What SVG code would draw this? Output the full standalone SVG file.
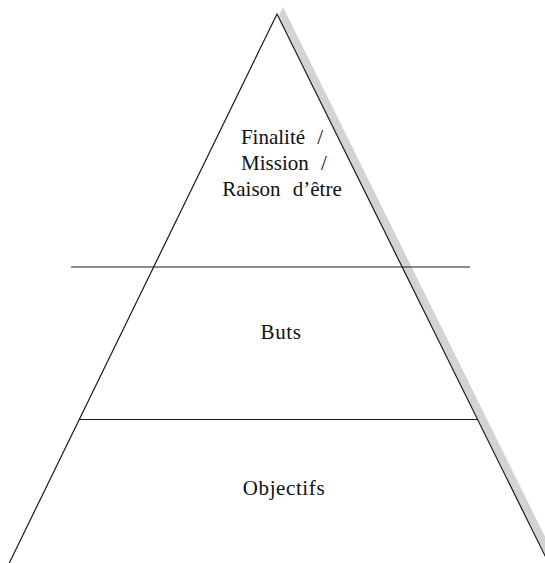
<svg xmlns="http://www.w3.org/2000/svg" width="545" height="563" viewBox="0 0 545 563">
  <style>
    .label { font-family: "Liberation Serif", "Times New Roman", serif; font-size: 21px; fill: #111; text-anchor: middle; }
    .top { word-spacing: 7px; }
    .wide { letter-spacing: 0.6px; }
    .edge { fill: #ffffff; stroke: #1a1a1a; stroke-width: 1.2; }
    .divider { stroke: #1a1a1a; stroke-width: 1.1; fill: none; }
  </style>
  <rect width="545" height="563" fill="#ffffff"/>

  <!-- pyramid body with its offset drop shadow -->
  <g id="pyramid">
    <polygon points="283,7 7,573 563,573" fill="#d3d3d3"/>
    <polygon class="edge" points="277,14 1,580 557,580"/>
  </g>

  <!-- tier dividers -->
  <g id="dividers">
    <line class="divider" x1="71" y1="267" x2="470" y2="267"/>
    <line class="divider" x1="79" y1="419.5" x2="477" y2="419.5" stroke="#333"/>
  </g>

  <g id="tier-finalite">
    <text class="label top" x="282" y="144">Finalité /</text>
    <text class="label top" x="284" y="170">Mission /</text>
    <text class="label top" x="282" y="196">Raison d’être</text>
  </g>

  <g id="tier-buts">
    <text class="label wide" x="281" y="339">Buts</text>
  </g>

  <g id="tier-objectifs">
    <text class="label wide" x="284" y="495">Objectifs</text>
  </g>
</svg>
